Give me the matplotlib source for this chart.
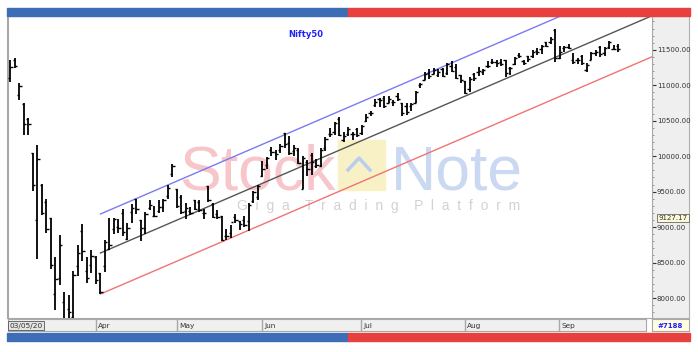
import matplotlib.pyplot as plt
import matplotlib.transforms as mtransforms
from matplotlib.patches import Rectangle
import numpy as np

# Nifty50 daily bars, one entry per trading day (Mar 4 - Sep 18 2020)
opens = [11100, 11350, 10860, 10742, 10530, 10045, 9107, 9588, 9356, 9127,
         8063, 8286, 7945, 7849, 7735, 8451, 8949, 8385, 8468,
         8584, 8356, 8446, 8688, 8973, 9004, 9196, 8829, 9207, 9390,
         9096, 8985, 9265, 9163, 9232, 9287, 9438, 9753,
         9533, 9429, 9227, 9234, 9376, 9348, 9197, 9584, 9332, 9182,
         9158, 8878, 8915, 9139, 9091, 9099, 9082, 9364, 9422,
         9726, 9880, 10082, 10054, 10093, 10326, 10181, 10073, 10094, 9544,
         9919, 10014, 9863, 9863, 10119, 10318, 10347, 10529, 10235, 10311,
         10317, 10382,
         10324, 10493, 10614, 10723, 10802, 10818, 10755, 10768, 10851, 10750,
         10701, 10706, 10752, 10999, 11077, 11173, 11160, 11149, 11226, 11173,
         11276, 11254, 11140,
         11058, 10946, 11155, 11185, 11186, 11270, 11322, 11322, 11334, 11353,
         11248, 11302, 11424, 11342, 11409, 11412, 11489, 11505, 11609, 11604,
         11777,
         11388, 11523, 11539, 11355, 11359, 11409, 11220, 11359, 11452, 11546,
         11449, 11536, 11511, 11554]
highs = [11357, 11385, 11036, 10751, 10540, 10045, 10159, 9602, 9403, 9127,
         8575, 8883, 8083, 8036, 8376, 8749, 9038, 8576, 8678,
         8588, 8356, 8819, 9131, 9128, 9113, 9261, 9053, 9324, 9390,
         9100, 9209, 9387, 9296, 9377, 9403, 9599, 9889,
         9533, 9450, 9346, 9277, 9382, 9379, 9249, 9584, 9337, 9238,
         9158, 8969, 9030, 9178, 9091, 9162, 9334, 9511, 9598,
         9931, 9995, 10123, 10094, 10177, 10328, 10291, 10154, 10113, 9996,
         9943, 10046, 9966, 10111, 10272, 10393, 10484, 10553, 10342, 10409,
         10337, 10401,
         10434, 10599, 10631, 10811, 10814, 10848, 10847, 10794, 10894, 10755,
         10755, 10755, 10917, 11038, 11184, 11223, 11240, 11225, 11239, 11317,
         11341, 11299, 11150,
         11058, 11112, 11176, 11257, 11232, 11337, 11374, 11360, 11373, 11362,
         11256, 11401, 11460, 11361, 11418, 11497, 11525, 11562, 11617, 11686,
         11794,
         11554, 11553, 11584, 11452, 11381, 11429, 11313, 11469, 11493, 11553,
         11536, 11618, 11572, 11584]
lows = [11046, 11240, 10790, 10295, 10300, 9508, 8555, 9165, 8915, 8407,
        7832, 8178, 7584, 7511, 7714, 8304, 8522, 8215, 8358,
        8199, 8056, 8360, 8682, 8904, 8915, 8874, 8821, 9052, 9178,
        8810, 8904, 9241, 9141, 9196, 9209, 9400, 9700,
        9266, 9190, 9116, 9175, 9238, 9217, 9115, 9351, 9125, 9115,
        8807, 8817, 8843, 9056, 8960, 8996, 8949, 9336, 9376,
        9706, 9824, 9998, 9944, 10040, 10120, 10021, 9998, 9885, 9544,
        9726, 9728, 9833, 9845, 10072, 10277, 10301, 10281, 10194, 10286,
        10223, 10267,
        10296, 10485, 10562, 10695, 10696, 10676, 10749, 10713, 10775, 10562,
        10578, 10638, 10749, 10964, 11071, 11091, 11154, 11116, 11113, 11151,
        11181, 11085, 11026,
        10882, 10908, 11064, 11127, 11142, 11248, 11299, 11254, 11276, 11111,
        11144, 11283, 11378, 11289, 11333, 11380, 11423, 11447, 11534, 11589,
        11326,
        11366, 11464, 11507, 11303, 11300, 11283, 11185, 11353, 11419, 11402,
        11412, 11507, 11495, 11465]
closes = [11251, 11270, 10989, 10451, 10458, 9590, 9955, 9197, 8967, 8469,
          8263, 8745, 7610, 7801, 8318, 8641, 8660, 8281, 8598,
          8254, 8084, 8792, 8748, 9112, 8994, 8925, 8992, 9267, 9262,
          8981, 9188, 9314, 9154, 9282, 9380, 9553, 9860,
          9294, 9206, 9270, 9199, 9251, 9240, 9196, 9384, 9142, 9137,
          8823, 8879, 9067, 9106, 9039, 9029, 9314, 9491, 9580,
          9826, 9979, 10061, 10029, 10142, 10167, 10046, 10116, 9902, 9972,
          9813, 9914, 9881, 10092, 10244, 10311, 10471, 10305, 10288, 10383,
          10312, 10302,
          10430, 10551, 10607, 10764, 10799, 10706, 10813, 10768, 10802, 10607,
          10618, 10740, 10902, 11022, 11162, 11132, 11215, 11194, 11131, 11300,
          11202, 11102, 11073,
          10892, 11095, 11102, 11200, 11214, 11270, 11322, 11308, 11300, 11178,
          11247, 11385, 11408, 11312, 11372, 11467, 11472, 11549, 11559, 11647,
          11388,
          11470, 11536, 11527, 11334, 11355, 11318, 11279, 11450, 11465, 11441,
          11522, 11605, 11516, 11505]

month_names = ['03/05/20', 'Apr', 'May', 'Jun', 'Jul', 'Aug', 'Sep']
month_days = [19, 18, 19, 22, 23, 21, 14]   # trading days per month

# drawn channel: price at first and last bar index
channel_x = [20, 143]
upper_line = [9185, 12543]
mid_line = [8635, 11993]
lower_line = [8056, 11414]

price_ticks = [8000, 8500, 9000, 9500, 10000, 10500, 11000, 11500]
last_label = 9127.17

W, H = 698, 352
fig = plt.figure(figsize=(W / 100, H / 100), dpi=100)

def box(x0, y0, x1, y1):
    # pixel box -> figure fraction [left, bottom, width, height]
    return [x0 / W, 1 - y1 / H, (x1 - x0) / W, (y1 - y0) / H]

# coloured strips at top and bottom
for y0 in [8, 333]:
    fig.add_artist(Rectangle((7 / W, 1 - (y0 + 8) / H), 341 / W, 8 / H,
                             color='#3d6eb5', transform=fig.transFigure))
    fig.add_artist(Rectangle((348 / W, 1 - (y0 + 8) / H), 342 / W, 8 / H,
                             color='#e8403f', transform=fig.transFigure))

# price scale panel (behind main axes)
ax_r = fig.add_axes(box(652, 16, 689, 318))
ax_r.set_facecolor('#efefef')
ax_r.set_xticks([])
ax_r.set_yticks([])
for s in ax_r.spines.values():
    s.set_color('#b0b0b0')
ax_r.set_zorder(-1)

ax = fig.add_axes(box(8, 16, 652, 318))
n = len(closes)
x = np.arange(n)
ax.set_xlim(-0.55, 142.55)
ax.set_ylim(7718, 11977)

# watermark
wm = dict(transform=fig.transFigure, zorder=0, family='Liberation Sans')
ax.text(179 / W, 1 - 189 / H, 'Stock', fontsize=45, color='#f7c6cb', **wm)
ax.text(391 / W, 1 - 189 / H, 'Note', fontsize=45, color='#cad8f1', **wm)
ax.add_patch(Rectangle((338 / W, 1 - 190 / H), 47 / W, 50 / H, color='#f9f1c6',
                       transform=fig.transFigure, zorder=0))
ax.plot([348 / W, 359 / W, 370 / W], [1 - 170 / H, 1 - 158 / H, 1 - 170 / H],
        color='#b9cdee', lw=2.5, transform=fig.transFigure, zorder=0)
ax.text(237 / W, 1 - 210 / H,
        'G  i  g  a    T  r  a  d  i  n  g    P  l  a  t  f  o  r  m',
        fontsize=10, color='#d2d2d2', **wm)

# channel lines
ax.plot(channel_x, upper_line, color='#7a7af2', lw=1)
ax.plot(channel_x, mid_line, color='#555555', lw=1)
ax.plot(channel_x, lower_line, color='#ef7474', lw=1)

# OHLC bars
ax.vlines(x, lows, highs, color='black', lw=1.3, zorder=3)
ax.hlines(opens, x - 0.45, x, color='black', lw=1, zorder=3)
ax.hlines(closes, x, x + 0.45, color='black', lw=1, zorder=3)

ax.text(0.435, 0.93, 'Nifty50', transform=ax.transAxes, color='#2020ff',
        fontsize=6, fontweight='bold', ha='left')

# price axis on the right
ax.yaxis.tick_right()
ax.set_yticks(price_ticks)
ax.set_yticklabels(['%.2f' % p for p in price_ticks])
ax.set_yticks(np.arange(7800, 11901, 100), minor=True)
ax.tick_params(axis='y', which='major', length=3, pad=0.5, labelsize=5,
               colors='#333333')
ax.tick_params(axis='y', which='minor', length=1.5, colors='#888888')
ax.set_xticks([])
for s in ax.spines.values():
    s.set_color('#a8a8a8')
ax.spines['left'].set_linewidth(1.5)

trans = mtransforms.blended_transform_factory(ax.transAxes, ax.transData)
ax.text(1.01, last_label, '%.2f' % last_label, transform=trans, fontsize=5,
        va='center', ha='left', color='#333333',
        bbox=dict(boxstyle='square,pad=0.2', fc='#fdf9d8', ec='#666666', lw=0.6))

# month strip along the bottom
ax_x = fig.add_axes(box(8, 319, 646, 331))
ax_x.set_xlim(-0.55, -0.55 + 638 / 4.5)
ax_x.set_ylim(0, 1)
ax_x.set_facecolor('#f0f0f0')
ax_x.set_xticks([])
ax_x.set_yticks([])
for s in ax_x.spines.values():
    s.set_color('#a8a8a8')
starts = np.concatenate([[0], np.cumsum(month_days)[:-1]])
for i in range(len(month_names)):
    if i == 0:
        ax_x.text(-0.3, 0.45, month_names[i], fontsize=5.3, va='center',
                  color='#333333',
                  bbox=dict(boxstyle='square,pad=0.2', fc='#e4e4e4', ec='#555555', lw=0.6))
    else:
        ax_x.axvline(starts[i], color='#a8a8a8', lw=1)
        ax_x.text(starts[i] + 0.4, 0.45, month_names[i], fontsize=5.3,
                  va='center', color='#333333')

# bar count box
ax_id = fig.add_axes(box(652, 319, 689, 331))
ax_id.set_facecolor('#fffde2')
ax_id.set_xticks([])
ax_id.set_yticks([])
for s in ax_id.spines.values():
    s.set_color('#a8a8a8')
ax_id.text(0.5, 0.45, '#7188', ha='center', va='center', fontsize=5,
           color='#2020ff', fontweight='bold')

plt.savefig('out.png', dpi=100)
